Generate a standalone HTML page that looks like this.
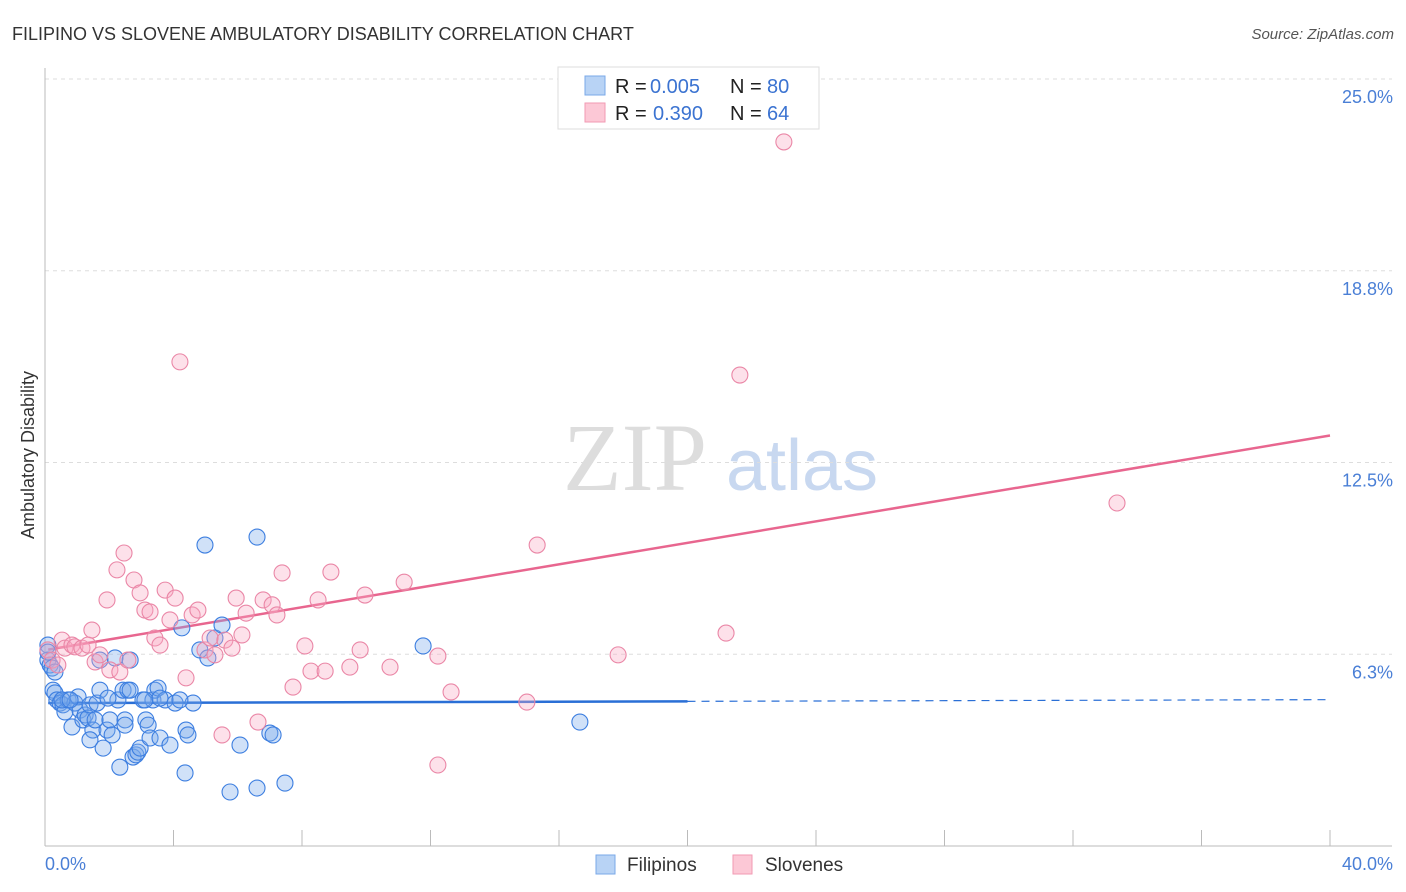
<!DOCTYPE html>
<html><head><meta charset="utf-8"><style>
body{margin:0;background:#fff;font-family:"Liberation Sans",sans-serif}
svg{display:block}
</style></head><body>
<svg id="c" width="1406" height="892" xmlns="http://www.w3.org/2000/svg">
<text x="12" y="40" font-size="18" fill="#333">FILIPINO VS SLOVENE AMBULATORY DISABILITY CORRELATION CHART</text>
<text x="1394" y="39" font-size="15" fill="#555" font-style="italic" text-anchor="end">Source: ZipAtlas.com</text>
<text x="34" y="455" font-size="18" fill="#333" text-anchor="middle" transform="rotate(-90 34 455)">Ambulatory Disability</text>
<g><text x="635" y="490" font-size="96" fill="#ddd" font-family="Liberation Serif" text-anchor="middle">ZIP</text><text x="802" y="490" font-size="72" fill="#c8d8f0" text-anchor="middle">atlas</text></g>
<g id="grid"></g><g id="axes"></g><g id="lines"></g><g id="pts"></g>
<g>
<rect x="558" y="67" width="261" height="62" fill="#fff" stroke="#ddd"/>
<rect x="585" y="76" width="20" height="19" fill="#b8d3f5" stroke="#7aa8e8"/>
<rect x="585" y="103" width="20" height="19" fill="#fcc8d6" stroke="#f29ab3"/>
<text x="615" y="93" font-size="20" fill="#222">R =</text>
<text x="650" y="93" font-size="20" fill="#3b73d1">0.005</text>
<text x="730" y="93" font-size="20" fill="#222">N =</text>
<text x="767" y="93" font-size="20" fill="#3b73d1">80</text>
<text x="615" y="120" font-size="20" fill="#222">R =</text>
<text x="653" y="120" font-size="20" fill="#3b73d1">0.390</text>
<text x="730" y="120" font-size="20" fill="#222">N =</text>
<text x="767" y="120" font-size="20" fill="#3b73d1">64</text>
</g>
<g>
<rect x="596" y="855" width="19" height="19" fill="#b8d3f5" stroke="#7aa8e8"/>
<text x="627" y="871" font-size="19" fill="#333">Filipinos</text>
<rect x="733" y="855" width="19" height="19" fill="#fcc8d6" stroke="#f29ab3"/>
<text x="765" y="871" font-size="19" fill="#333">Slovenes</text>
</g>
</svg>
<script>
const yTicks=[6.25,12.5,18.75,25];
const yTickLabels=["6.3%","12.5%","18.8%","25.0%"];
const xTickLabels=["0.0%","40.0%"];
const blueX=[],blueY=[],pinkX=[],pinkY=[];
const blueP=[[48,645],[48,660],[50,665],[52,668],[53,690],[55,693],[57,700],[60,703],[63,705],[65,712],[68,700],[72,727],[75,703],[78,697],[80,710],[83,720],[85,715],[88,718],[90,705],[93,730],[95,720],[97,703],[100,690],[103,748],[107,730],[110,720],[112,735],[115,658],[118,700],[120,767],[123,690],[125,720],[128,690],[130,690],[133,757],[136,755],[138,752],[140,748],[143,700],[146,720],[148,725],[150,738],[153,700],[155,690],[158,688],[160,738],[165,700],[170,745],[175,703],[182,628],[185,773],[186,730],[188,735],[193,703],[200,650],[205,545],[208,658],[215,638],[222,625],[230,792],[240,745],[257,537],[257,788],[270,733],[273,735],[285,783],[423,646],[580,722],[48,652],[55,672],[62,700],[70,700],[90,740],[108,698],[125,725],[130,660],[145,700],[160,698],[180,700],[100,660]];
const pinkP=[[48,650],[52,660],[58,665],[62,640],[65,648],[72,645],[75,647],[82,648],[88,645],[92,630],[95,662],[100,655],[107,600],[110,670],[117,570],[120,672],[124,553],[128,660],[134,580],[140,593],[145,610],[150,612],[155,638],[160,645],[165,590],[170,620],[175,598],[180,362],[186,678],[192,615],[198,610],[205,650],[210,638],[215,655],[222,735],[225,640],[232,648],[236,598],[242,635],[246,613],[258,722],[263,600],[272,605],[277,615],[282,573],[293,687],[305,646],[311,671],[318,600],[325,671],[331,572],[350,667],[360,650],[365,595],[390,667],[404,582],[438,765],[438,656],[451,692],[527,702],[537,545],[618,655],[726,633],[740,375],[784,142],[1117,503]];
blueP.forEach(p=>{blueX.push(+((p[0]-45)/32.125).toFixed(2));blueY.push(+((846-p[1])/30.68).toFixed(2));});
pinkP.forEach(p=>{pinkX.push(+((p[0]-45)/32.125).toFixed(2));pinkY.push(+((846-p[1])/30.68).toFixed(2));});
const blueTrend=[4.66,4.77], pinkTrend=[6.4,13.38];
const X=v=>45+v*32.125, Y=v=>846-v*30.68;
const NS="http://www.w3.org/2000/svg";
function mk(t,a,par){const e=document.createElementNS(NS,t);for(const k in a)e.setAttribute(k,a[k]);document.getElementById(par).appendChild(e);return e;}
yTicks.forEach((t,i)=>{
 const l=mk('line',{x1:45,x2:1392,y1:Y(t),y2:Y(t),stroke:'#ddd','stroke-dasharray':'4,4'},'grid');
 
 
 const tx=mk('text',{x:1393,y:Y(t)+24,'font-size':18,fill:'#4a7fd6','text-anchor':'end'},'grid');tx.textContent=yTickLabels[i];
 
 
});
mk('line',{x1:45,x2:45,y1:68,y2:846,stroke:'#bbb'},'axes');
mk('line',{x1:45,x2:1392,y1:846,y2:846,stroke:'#bbb'},'axes');
for(let i=0;i<=10;i++){const t=mk('line',{x1:X(i*4),x2:X(i*4),y1:830,y2:846,stroke:'#bbb'},'axes');
 
 }
[[0,45,'start'],[40,1393,'end']].forEach((d,i)=>{const tx=mk('text',{x:d[1],y:870,'font-size':18,fill:'#4a7fd6','text-anchor':d[2]},'axes');tx.textContent=xTickLabels[i];
 
 });
const bx=20, by=blueTrend[0]+(blueTrend[1]-blueTrend[0])*bx/40;
let e=mk('line',{x1:X(0.1),y1:Y(blueTrend[0]),x2:X(bx),y2:Y(by),stroke:'#2a6fd6','stroke-width':2.5},'lines');


e=mk('line',{x1:X(bx),y1:Y(by),x2:X(40),y2:Y(blueTrend[1]),stroke:'#2a6fd6','stroke-width':1.2,'stroke-dasharray':'8,6'},'lines');


e=mk('line',{x1:X(0.1),y1:Y(pinkTrend[0]),x2:X(40),y2:Y(pinkTrend[1]),stroke:'#e8668f','stroke-width':2.5},'lines');


blueX.forEach((v,i)=>{const c=mk('circle',{cx:X(v),cy:Y(blueY[i]),r:8,fill:'rgba(120,170,235,0.35)',stroke:'#3c7ee0','stroke-width':1.1},'pts');
 
 });
pinkX.forEach((v,i)=>{const c=mk('circle',{cx:X(v),cy:Y(pinkY[i]),r:8,fill:'rgba(248,170,195,0.35)',stroke:'#ea86a6','stroke-width':1.1},'pts');
 
 });
</script>
</body></html>
